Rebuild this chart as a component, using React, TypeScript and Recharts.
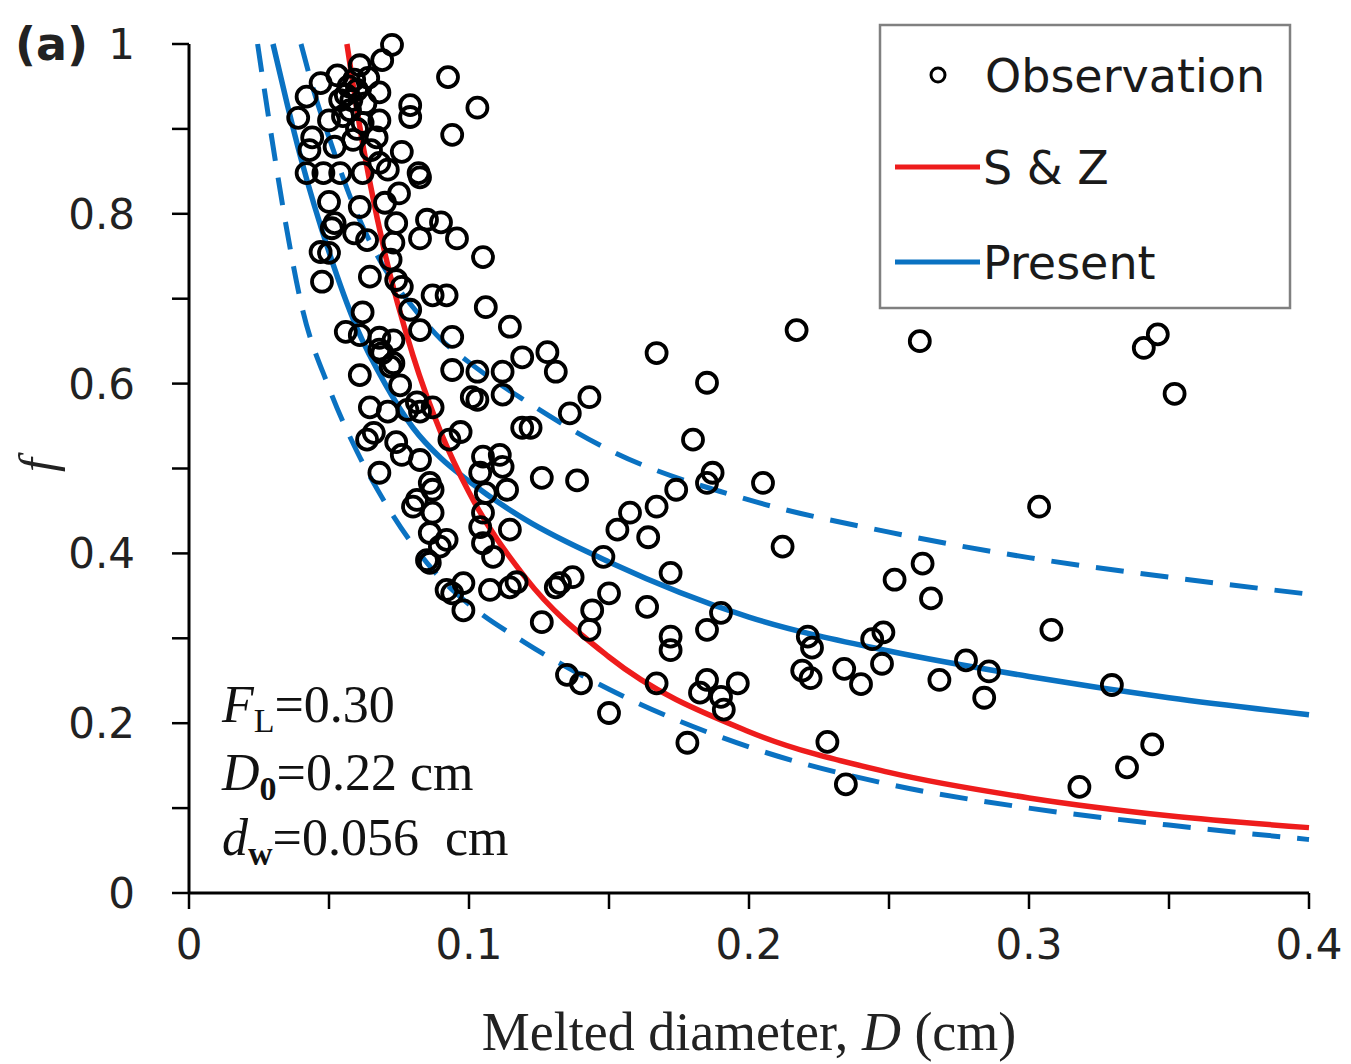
import { ComposedChart, Line, Scatter, XAxis, YAxis } from "recharts";

// axis ticks
const xTicks = [0, 0.05, 0.1, 0.15, 0.2, 0.25, 0.3, 0.35, 0.4];
const yTicks = [0, 0.1, 0.2, 0.3, 0.4, 0.5, 0.6, 0.7, 0.8, 0.9, 1];

// S & Z curve (red)
const szD = [0.0564, 0.06, 0.07, 0.08, 0.09, 0.1, 0.12, 0.15, 0.2, 0.25, 0.3, 0.35, 0.4];
const szF = [1.0, 0.922, 0.753, 0.633, 0.542, 0.472, 0.372, 0.278, 0.19, 0.142, 0.112, 0.091, 0.077];

// Present curve (blue solid)
const presentD = [0.03, 0.035, 0.04, 0.05, 0.06, 0.07, 0.08, 0.09, 0.1, 0.12, 0.15, 0.2, 0.25, 0.3, 0.35, 0.4];
const presentF = [1.0, 0.93, 0.865, 0.755, 0.665, 0.6, 0.548, 0.512, 0.485, 0.44, 0.39, 0.325, 0.285, 0.255, 0.23, 0.21];

// upper bound (blue dashed)
const upperD = [0.04, 0.045, 0.05, 0.06, 0.07, 0.08, 0.09, 0.1, 0.12, 0.15, 0.2, 0.25, 0.3, 0.35, 0.4];
const upperF = [1.0, 0.94, 0.89, 0.8, 0.735, 0.69, 0.652, 0.625, 0.58, 0.522, 0.463, 0.425, 0.395, 0.372, 0.352];

// lower bound (blue dashed)
const lowerD = [0.0245, 0.03, 0.035, 0.04, 0.05, 0.06, 0.07, 0.08, 0.09, 0.1, 0.12, 0.15, 0.2, 0.25, 0.3, 0.35, 0.4];
const lowerF = [1.0, 0.88, 0.78, 0.695, 0.595, 0.52, 0.46, 0.41, 0.37, 0.34, 0.295, 0.24, 0.172, 0.128, 0.1, 0.08, 0.063];

// observations [D (cm), f]
const observation = [
  [0.0725, 0.999], [0.069, 0.981], [0.061, 0.975], [0.053, 0.963], [0.047, 0.954], [0.042, 0.938],
  [0.039, 0.913], [0.068, 0.943], [0.06, 0.946], [0.0575, 0.922], [0.05, 0.91], [0.062, 0.907],
  [0.068, 0.91], [0.067, 0.89], [0.0586, 0.887], [0.052, 0.879], [0.044, 0.89], [0.043, 0.875],
  [0.076, 0.873], [0.079, 0.928], [0.079, 0.914], [0.082, 0.848], [0.042, 0.848], [0.048, 0.848],
  [0.054, 0.848], [0.062, 0.848], [0.068, 0.86], [0.071, 0.852], [0.075, 0.824], [0.05, 0.814],
  [0.061, 0.808], [0.07, 0.813], [0.052, 0.789], [0.074, 0.789], [0.056, 0.94], [0.058, 0.934],
  [0.054, 0.934], [0.059, 0.958], [0.0925, 0.961], [0.103, 0.925], [0.094, 0.893], [0.0825, 0.843],
  [0.085, 0.793], [0.09, 0.79], [0.051, 0.783], [0.059, 0.777], [0.0636, 0.769], [0.073, 0.766],
  [0.047, 0.755], [0.05, 0.754], [0.072, 0.746], [0.0475, 0.72], [0.0646, 0.726], [0.074, 0.722],
  [0.076, 0.714], [0.062, 0.684], [0.079, 0.687], [0.056, 0.661], [0.061, 0.657], [0.068, 0.654],
  [0.073, 0.651], [0.069, 0.636], [0.073, 0.624], [0.061, 0.61], [0.0754, 0.598], [0.0646, 0.572],
  [0.071, 0.567], [0.078, 0.569], [0.0814, 0.578], [0.0825, 0.771], [0.0957, 0.771], [0.105, 0.749],
  [0.087, 0.704], [0.092, 0.704], [0.106, 0.69], [0.1146, 0.667], [0.094, 0.655], [0.0825, 0.663],
  [0.094, 0.616], [0.103, 0.614], [0.112, 0.614], [0.119, 0.631], [0.128, 0.637], [0.131, 0.614],
  [0.103, 0.581], [0.112, 0.587], [0.0825, 0.567], [0.087, 0.572], [0.0636, 0.534], [0.074, 0.531],
  [0.076, 0.516], [0.0825, 0.51], [0.068, 0.495], [0.097, 0.543], [0.093, 0.534], [0.119, 0.548],
  [0.122, 0.548], [0.105, 0.514], [0.111, 0.516], [0.112, 0.502], [0.104, 0.495], [0.126, 0.489],
  [0.086, 0.483], [0.087, 0.475], [0.0814, 0.463], [0.08, 0.455], [0.087, 0.448], [0.106, 0.471],
  [0.1136, 0.475], [0.105, 0.448], [0.104, 0.431], [0.1146, 0.428], [0.086, 0.424], [0.092, 0.416],
  [0.0896, 0.408], [0.086, 0.389], [0.085, 0.392], [0.105, 0.412], [0.1086, 0.396], [0.094, 0.353],
  [0.098, 0.365], [0.1075, 0.357], [0.1146, 0.36], [0.117, 0.366], [0.098, 0.333], [0.126, 0.319],
  [0.131, 0.36], [0.167, 0.636], [0.185, 0.601], [0.143, 0.584], [0.136, 0.565], [0.18, 0.534],
  [0.1386, 0.486], [0.187, 0.495], [0.185, 0.483], [0.205, 0.483], [0.174, 0.475], [0.167, 0.455],
  [0.1575, 0.448], [0.153, 0.428], [0.164, 0.419], [0.148, 0.396], [0.212, 0.408], [0.137, 0.372],
  [0.1325, 0.365], [0.172, 0.377], [0.15, 0.353], [0.144, 0.333], [0.143, 0.31], [0.1636, 0.337],
  [0.19, 0.33], [0.185, 0.31], [0.172, 0.302], [0.172, 0.286], [0.135, 0.257], [0.14, 0.247],
  [0.15, 0.212], [0.167, 0.247], [0.185, 0.251], [0.1825, 0.236], [0.19, 0.231], [0.196, 0.247],
  [0.191, 0.216], [0.178, 0.177], [0.217, 0.663], [0.261, 0.65], [0.341, 0.642], [0.346, 0.658],
  [0.352, 0.588], [0.3036, 0.455], [0.262, 0.388], [0.252, 0.369], [0.265, 0.347], [0.308, 0.31],
  [0.221, 0.302], [0.2225, 0.289], [0.248, 0.307], [0.244, 0.299], [0.219, 0.262], [0.222, 0.253],
  [0.234, 0.264], [0.24, 0.246], [0.2475, 0.27], [0.268, 0.251], [0.2775, 0.274], [0.2857, 0.261],
  [0.284, 0.23], [0.3296, 0.245], [0.228, 0.178], [0.2346, 0.128], [0.318, 0.125], [0.335, 0.148],
  [0.344, 0.175], [0.072, 0.62], [0.068, 0.64], [0.101, 0.584], [0.092, 0.357], [0.066, 0.542],
  [0.057, 0.95], [0.063, 0.93], [0.055, 0.915], [0.064, 0.96], [0.06, 0.9], [0.065, 0.875],
];

const toSeries = (ds: number[], fs: number[]) => ds.map((D, i) => ({ D, f: fs[i] }));
const obsData = observation.map(([D, f]) => ({ D, f }));

const RED = "#ee1c1c";
const BLUE = "#0a72c2";
const SANS = "DejaVu Sans";
const SERIF = "Liberation Serif";

const fmtX = (v: number) => {
  if (Math.round(v * 100) % 10 !== 0) return "";
  return v === 0 ? "0" : v.toFixed(1);
};
const fmtY = (v: number) => {
  if (Math.round(v * 10) % 2 !== 0) return "";
  if (v === 0) return "0";
  if (v === 1) return "1";
  return v.toFixed(1);
};

const Ring = (props: any) => (
  <circle cx={props.cx} cy={props.cy} r={10} fill="none" stroke="#000" strokeWidth={3.8} />
);

export default function App() {
  return (
    <ComposedChart width={1343} height={1056} margin={{ top: 36, right: 42, bottom: 0, left: 0 }}>
      <XAxis
        type="number"
        dataKey="D"
        domain={[0, 0.4]}
        ticks={xTicks}
        interval={0}
        tickFormatter={fmtX}
        tickSize={16}
        tickMargin={20}
        height={171}
        axisLine={{ stroke: "#000", strokeWidth: 3 }}
        tickLine={{ stroke: "#000", strokeWidth: 2.5 }}
        tick={{ fill: "#222", fontSize: 42, fontFamily: SANS }}
      />
      <XAxis
        xAxisId="top"
        orientation="top"
        type="number"
        domain={[0, 0.4]}
        height={0}
        tick={false}
        tickLine={false}
        axisLine={{ stroke: "#000", strokeWidth: 3 }}
      />
      <YAxis
        type="number"
        dataKey="f"
        domain={[0, 1]}
        ticks={yTicks}
        interval={0}
        tickFormatter={fmtY}
        tickSize={17}
        tickMargin={37}
        width={181}
        axisLine={{ stroke: "#000", strokeWidth: 3 }}
        tickLine={{ stroke: "#000", strokeWidth: 2.5 }}
        tick={{ fill: "#222", fontSize: 42, fontFamily: SANS }}
      />
      <YAxis
        yAxisId="right"
        orientation="right"
        type="number"
        domain={[0, 1]}
        width={0}
        tick={false}
        tickLine={false}
        axisLine={{ stroke: "#000", strokeWidth: 3 }}
      />

      <Line data={toSeries(lowerD, lowerF)} dataKey="f" type="monotone" stroke={BLUE} strokeWidth={5} strokeDasharray="28 17" dot={false} isAnimationActive={false} />
      <Line data={toSeries(upperD, upperF)} dataKey="f" type="monotone" stroke={BLUE} strokeWidth={5} strokeDasharray="28 17" dot={false} isAnimationActive={false} />
      <Line data={toSeries(presentD, presentF)} dataKey="f" type="monotone" stroke={BLUE} strokeWidth={5.5} dot={false} isAnimationActive={false} />
      <Line data={toSeries(szD, szF)} dataKey="f" type="monotone" stroke={RED} strokeWidth={5.5} dot={false} isAnimationActive={false} />
      <Scatter data={obsData} shape={Ring} isAnimationActive={false} />

      {/* panel label and axis titles */}
      <text x={7} y={52} fontSize={46} fontWeight="bold" fontFamily={SANS} fill="#222">(a)</text>
      <text x={46} y={457} transform="rotate(-90 46 457)" textAnchor="middle" fontSize={50} fontStyle="italic" fontFamily={SERIF} fill="#222">f</text>
      <text x={741} y={1042} textAnchor="middle" fontSize={54} fontFamily={SERIF} fill="#222">
        Melted diameter, <tspan fontStyle="italic">D</tspan> (cm)
      </text>

      {/* parameters */}
      <text x={214} y={714} fontSize={52} fontFamily={SERIF} fill="#111">
        <tspan fontStyle="italic">F</tspan>
        <tspan fontSize={34} dy={10}>L</tspan>
        <tspan dy={-10}>=0.30</tspan>
      </text>
      <text x={214} y={782} fontSize={52} fontFamily={SERIF} fill="#111">
        <tspan fontStyle="italic">D</tspan>
        <tspan fontSize={34} dy={10} fontWeight="bold">0</tspan>
        <tspan dy={-10}>=0.22  cm</tspan>
      </text>
      <text x={214} y={847} fontSize={52} fontFamily={SERIF} fill="#111" xmlSpace="preserve">
        <tspan fontStyle="italic">d</tspan>
        <tspan fontSize={34} dy={10} fontWeight="bold">w</tspan>
        <tspan dy={-10}>=0.056  cm</tspan>
      </text>

      {/* legend */}
      <g transform="translate(872 17)">
        <rect x={0} y={0} width={410} height={283} fill="#fff" stroke="#808080" strokeWidth={2.5} />
        <circle cx={58} cy={50} r={7} fill="none" stroke="#000" strokeWidth={3} />
        <text x={105} y={67} fontSize={46} fontFamily={SANS} fill="#1a1a1a">Observation</text>
        <line x1={15} x2={100} y1={142} y2={142} stroke={RED} strokeWidth={5} />
        <text x={103} y={159} fontSize={46} fontFamily={SANS} fill="#1a1a1a">S &amp; Z</text>
        <line x1={15} x2={100} y1={237} y2={237} stroke={BLUE} strokeWidth={5} />
        <text x={103} y={254} fontSize={46} fontFamily={SANS} fill="#1a1a1a">Present</text>
      </g>
    </ComposedChart>
  );
}
